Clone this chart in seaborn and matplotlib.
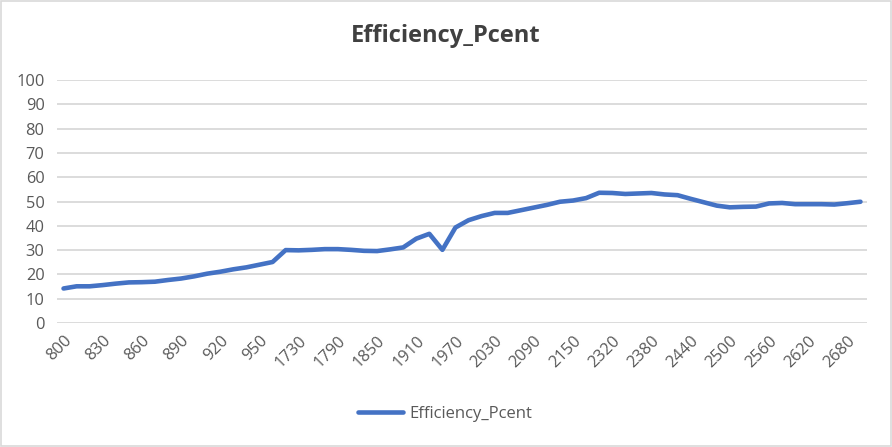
import numpy as np
import pandas as pd
import matplotlib
matplotlib.use("Agg")
import matplotlib.pyplot as plt
from matplotlib.patches import Rectangle
import seaborn as sns

categories = (
    [str(v) for v in range(800, 960, 10)]
    + ["960", "1710"]
    + [str(v) for v in range(1730, 2170, 20)]
    + ["2170", "2300"]
    + [str(v) for v in range(2320, 2720, 20)]
)

efficiency = [
    14.2, 15.1, 15.1, 15.6, 16.2, 16.7, 16.8, 17.0, 17.7, 18.3,
    19.2, 20.3, 21.1, 22.1, 22.9, 24.0, 25.1, 30.0, 29.9, 30.1,
    30.4, 30.4, 30.1, 29.7, 29.6, 30.3, 31.1, 34.7, 36.7, 30.1,
    39.3, 42.3, 44.0, 45.3, 45.3, 46.4, 47.5, 48.6, 49.9, 50.4,
    51.4, 53.6, 53.5, 53.1, 53.3, 53.5, 52.9, 52.6, 51.1, 49.7,
    48.3, 47.6, 47.8, 47.9, 49.2, 49.4, 48.9, 48.9, 48.9, 48.75,
    49.3, 49.9,
]

series_name = "Efficiency_Pcent"
y_ticks = list(range(0, 101, 10))

df = pd.DataFrame({"Category": categories, series_name: efficiency})

sns.set_theme(style="white")
plt.rcParams["font.family"] = ["Open Sans", "DejaVu Sans"]

fig = plt.figure(figsize=(8.92, 4.47), dpi=100)
ax = fig.add_axes([57 / 892, 1 - 323 / 447, (867 - 57) / 892, (323 - 80) / 447])

sns.lineplot(data=df, x="Category", y=series_name, ax=ax, color="#4472C4",
             linewidth=3.3, label=series_name, sort=False)
for ln in ax.get_lines():
    ln.set_solid_joinstyle("round")
    ln.set_solid_capstyle("round")

n = len(categories)
ax.set_xlim(-0.5, n - 0.5)
ax.set_ylim(0, 100)
ax.set_yticks(y_ticks)
ax.set_yticklabels([str(t) for t in y_ticks], fontsize=11.8, color="#595959")
tick_idx = list(range(0, n, 3))
ax.set_xticks(tick_idx)
ax.set_xticklabels([categories[i] for i in tick_idx], rotation=45, ha="right",
                   rotation_mode="anchor", fontsize=11.8, color="#595959")
ax.tick_params(axis="x", length=0, pad=7)
ax.tick_params(axis="y", length=0, pad=9)
ax.grid(axis="y", color="#d9d9d9", linewidth=1.3)
ax.grid(axis="x", visible=False)
for s in ax.spines.values():
    s.set_visible(False)
ax.set_xlabel("")
ax.set_ylabel("")

ax.legend_.remove()
handles, labels = ax.get_legend_handles_labels()
fig.legend(handles, labels, loc="center", bbox_to_anchor=(445 / 892, 1 - 414 / 447),
           frameon=False, fontsize=12, handlelength=2.7, handletextpad=0.35,
           labelcolor="#595959")

fig.text(446 / 892, 1 - 36 / 447, series_name, ha="center", va="center",
         fontsize=17, fontweight="bold", color="#404040")

fig.patches.append(Rectangle((1 / 892, 1 / 447), 890 / 892, 445 / 447,
                             transform=fig.transFigure, fill=False,
                             edgecolor="#d9d9d9", linewidth=1.2))

fig.savefig("out.png", dpi=100, facecolor="white")
